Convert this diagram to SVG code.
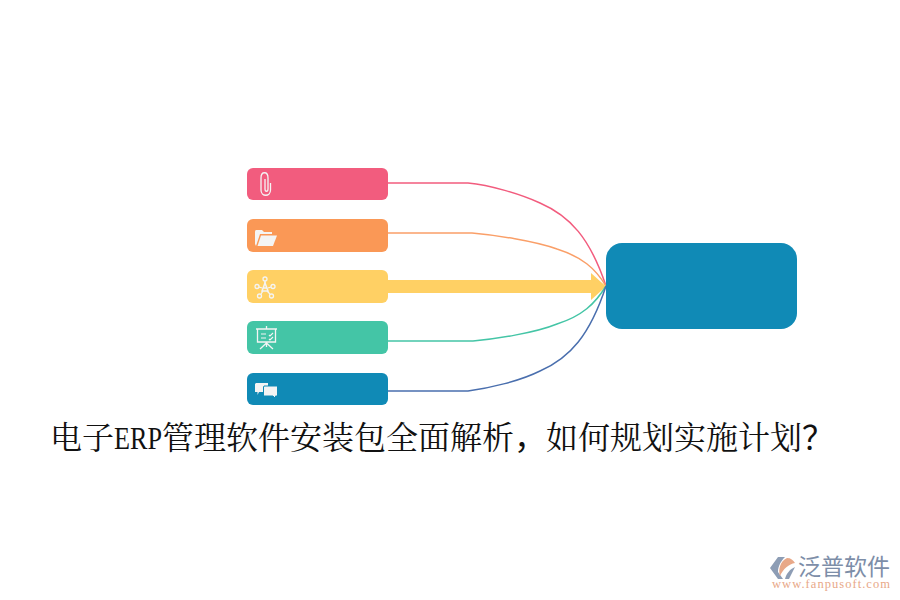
<svg xmlns="http://www.w3.org/2000/svg" width="900" height="600" viewBox="0 0 900 600">
<style>
.bar{stroke:none}
.c{fill:none;stroke-width:1.5}
.ic{fill:none;stroke:#f4f4f4;stroke-width:1.300}
.if{fill:#f4f4f4;stroke:none}
.title{font-family:"Noto Serif CJK SC","Liberation Serif","Noto Sans CJK SC",serif;font-size:32px;fill:#111}
</style>
<rect width="900" height="600" fill="#fff"/>
<g id="connectors">
<path class="c" stroke="#f25c7e" d="M388 183H468C490 185 520 194 540 203C570 216 590 238 606 286"/>
<path class="c" stroke="#fa9f68" d="M388 233H472C495 235 535 241 557 249C582 257 595 268 606 286"/>
<path class="bar" fill="#ffd064" d="M388 280H591V273L606 286.500L591 300V293H388Z"/>
<path class="c" stroke="#44c5a6" d="M388 341H473C495 339 535 333 557 324C582 316 595 304 606 286"/>
<path class="c" stroke="#4a6fae" d="M388 391H468C490 388 520 381 540 371C570 358 590 335 606 286"/>
</g>
<g id="node-1"><rect x="247" y="168" width="141" height="32" rx="6" fill="#f25c7e"/>
<path class="ic" d="M270.500 183V190C270.500 197 261 197 261 190V178C261 171 268 171 268 178V189C268 192 265 192 265 189V179"/></g>
<g id="node-2"><rect x="247" y="219" width="141" height="33" rx="6" fill="#fa9856"/>
<path class="if" d="M255 244V232C255 230 256 230 257 230H262L264 232H272V234H260L256 246Z"/>
<path class="if" d="M257.500 246L261 235.500H277L273 246Z"/></g>
<g id="node-3"><rect x="247" y="270" width="141" height="33" rx="6" fill="#ffd064"/>
<g class="ic"><path d="M265 281V284M259 287L262 288M271 287L268 288M261 294L263 291M270 294L267 291"/>
<path d="M262 291L265 283L268 291ZM263 288H267" stroke-width="1.500"/>
<circle cx="265" cy="279" r="2"/><circle cx="257" cy="286.500" r="2"/><circle cx="273" cy="286.500" r="2"/><circle cx="259.500" cy="296" r="2"/><circle cx="271.500" cy="296" r="2"/></g></g>
<g id="node-4"><rect x="247" y="321" width="141" height="33" rx="6" fill="#44c5a6"/>
<g class="ic"><path d="M256 329H277M257.500 329V342H275.500V329M266.500 326V329M266.500 342V347M266.500 343L260 349M266.500 343L273 349"/>
<path d="M261 334H266M261 338H266M269 335L270 336L273 333M269 339L270 340L273 337" stroke-width="1.100"/></g></g>
<g id="node-5"><rect x="247" y="373" width="141" height="32" rx="6" fill="#108ab6"/>
<path class="if" d="M256 383H268V392H259L257.500 395V392H255V384Z"/>
<path class="if" stroke="#108ab6" style="stroke:#108ab6;stroke-width:1" d="M264 386H277.500V396H275.500V398.500L273 396H263.500V387Z"/></g>
<g id="node-center"><rect x="606" y="243" width="191" height="86" rx="16" fill="#108ab6"/></g>
<text class="title" y="449"><tspan x="50 82">电子</tspan><tspan x="114" textLength="48" lengthAdjust="spacingAndGlyphs" font-family="Liberation Serif">ERP</tspan><tspan x="162 194 226 258 290 322 354 386 418 450 482">管理软件安装包全面解析</tspan><tspan x="514" font-family="Noto Sans CJK SC">，</tspan><tspan x="546 578 610 642 674 706 738 770">如何规划实施计划</tspan><tspan x="802" font-family="Noto Sans CJK SC">？</tspan></text>
<g id="logo">
<path fill="#8d9db5" d="M778 557H785C781 561 778 566 778 572L783 579H778L770 568Z"/>
<path fill="#e8a888" d="M787 558C791 558 793 560 795 563C789 564 783 569 780 576C778 570 780 561 787 558Z"/>
<path fill="#8d9db5" d="M795 567L789 579H785C786 574 790 569 795 567Z"/>
<text x="798" y="575" font-family="'Noto Sans CJK SC',sans-serif" font-size="23" fill="#7d8ea8" textLength="92">泛普软件</text>
<text x="772" y="588" font-family="'Liberation Serif',serif" font-size="12.500" fill="#e8a888" textLength="118">www.fanpusoft.com</text>
</g>
</svg>
